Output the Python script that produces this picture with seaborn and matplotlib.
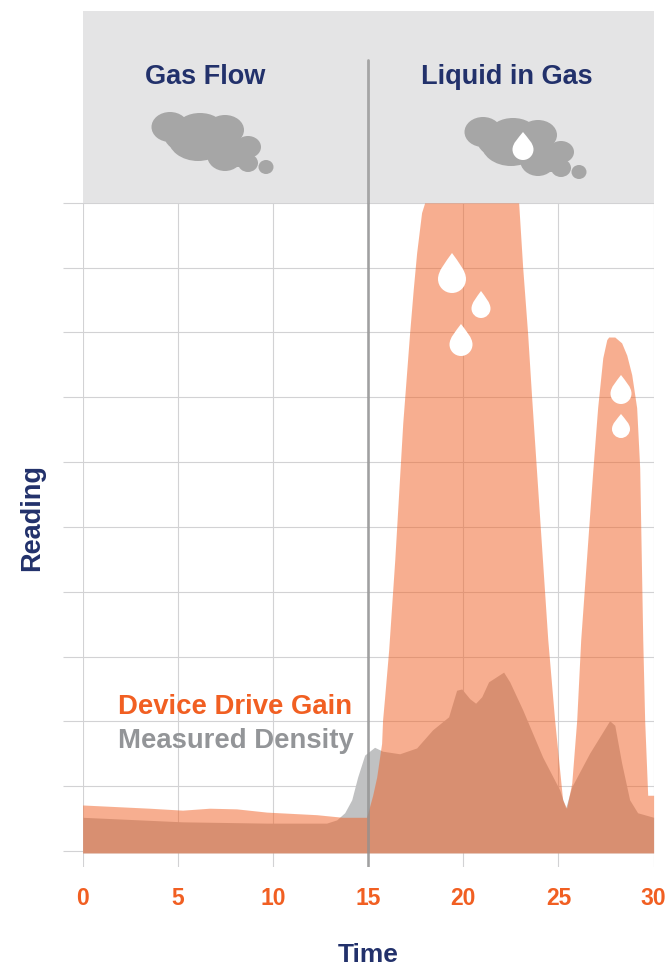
import matplotlib
matplotlib.use("Agg")
import matplotlib.pyplot as plt
from matplotlib.patches import Ellipse, PathPatch
from matplotlib.path import Path
import seaborn as sns

# values
gain_time = [0, 3.52, 5.25, 6.67, 8.09, 9.67, 12.30, 13.66, 14.92, 15.24, 15.45, 15.71, 15.76, 15.87, 16.08, 16.40,
             16.82, 17.18, 17.37, 17.55, 17.81, 17.97, 22.91, 23.12, 23.38, 23.59, 23.80, 24.44, 24.80, 25.22,
             25.43, 25.70, 25.96, 26.17, 26.80, 27.06, 27.33, 27.54, 27.64, 27.96, 28.32, 28.59, 28.85, 29.11,
             29.27, 29.43, 29.53, 29.69, 30]
gain_value = [0.71, 0.66, 0.63, 0.66, 0.65, 0.60, 0.56, 0.52, 0.52, 0.86, 1.14, 1.66, 2.02, 2.38, 3.10, 4.49,
              6.60, 7.99, 8.66, 9.23, 9.85, 10, 10, 9.01, 7.99, 7.01, 6.08, 3.26, 2.02, 0.79,
              0.66, 1.05, 2.02, 3.26, 5.85, 6.84, 7.61, 7.89, 7.93, 7.93, 7.84, 7.65, 7.35, 6.84,
              5.91, 3.26, 2.02, 0.86, 0.86]
density_time = [0, 5.25, 9.67, 12.82, 13.35, 13.77, 14.14, 14.45, 14.82, 15.34, 15.76, 16.66, 17.55,
                18.39, 19.23, 19.65, 19.92, 20.34, 20.65, 20.97, 21.33, 22.12, 22.44, 23.12, 24.17,
                25.07, 25.38, 25.70, 26.64, 27.69, 27.96, 28.32, 28.74, 29.16, 30]
density_value = [0.52, 0.45, 0.43, 0.43, 0.48, 0.59, 0.79, 1.14, 1.48, 1.60, 1.54, 1.50, 1.59,
                 1.87, 2.07, 2.48, 2.50, 2.35, 2.28, 2.38, 2.61, 2.76, 2.61, 2.18, 1.45,
                 0.94, 0.66, 0.99, 1.51, 2.01, 1.94, 1.36, 0.79, 0.59, 0.52]
x_ticks = [0, 5, 10, 15, 20, 25, 30]
y_ticks = list(range(11))
zone_labels = ["Gas Flow", "Liquid in Gas"]

NAVY = "#22316b"
ORANGE = "#f15f22"
GREY_TEXT = "#939598"
GRID = "#d2d2d4"

sns.set_theme(style="whitegrid")
plt.rcParams["font.family"] = ["Liberation Sans", "DejaVu Sans"]
plt.rcParams["font.weight"] = "bold"

W, H = 670, 966
fig = plt.figure(figsize=(W / 100, H / 100), dpi=100)
ax = fig.add_axes([82.6 / W, (H - 867) / H, 571 / W, 856 / H])

ax.set_xlim(0, 30)
ax.set_ylim(-0.247, 12.96)

# panel on top of the grid
ax.axhspan(10, 12.96, color="#e4e4e5", lw=0, zorder=1)

sns.lineplot(x=density_time, y=density_value, ax=ax, color="#c0c1c2", linewidth=0)
sns.lineplot(x=gain_time, y=gain_value, ax=ax, color=ORANGE, linewidth=0)
ax.fill_between(density_time, -0.03, density_value, color="#c0c1c2", lw=0, zorder=2)
ax.fill_between(gain_time, -0.03, gain_value, color=ORANGE, alpha=0.5, lw=0, zorder=2.1)

ax.axvline(15, ymin=0, ymax=(867 - 60) / 856, color="#909090", alpha=0.75, lw=2.0, zorder=3)

ax.set_xticks(x_ticks)
ax.set_yticks(y_ticks)
ax.set_yticklabels([])
ax.grid(True, color=GRID, lw=0.8)
ax.set_axisbelow(True)
ax.tick_params(axis="y", length=14.4, width=0.8, color=GRID, left=True)
ax.tick_params(axis="x", length=0, pad=14.5, labelsize=16.5, labelcolor=ORANGE)
sns.despine(ax=ax, left=True, bottom=True)

ax.set_xlabel("Time", fontsize=19, fontweight="bold", color=NAVY, va="center")
ax.xaxis.set_label_coords(0.5, -0.1025)
ax.set_ylabel("Reading", fontsize=19.5, fontweight="bold", color=NAVY, va="center")
ax.yaxis.set_label_coords(-0.0885, 0.408)

ax.text(6.46, 11.94, zone_labels[0], fontsize=19.5, color=NAVY, ha="center", va="center", zorder=4)
ax.text(22.3, 11.94, zone_labels[1], fontsize=19.5, color=NAVY, ha="center", va="center", zorder=4)
ax.text(1.84, 2.22, "Device Drive Gain", fontsize=19.8, color=ORANGE, va="center", zorder=4)
ax.text(1.84, 1.70, "Measured Density", fontsize=19.8, color=GREY_TEXT, va="center", zorder=4)

# icons, in pixel coordinates on an overlay
icons = fig.add_axes([0, 0, 1, 1], facecolor="none")
icons.set_xlim(0, W)
icons.set_ylim(H, 0)
icons.axis("off")


def draw_cloud(dx, dy):
    blobs = [(170, 127, 18.5, 15), (200, 126, 22, 13), (225, 130, 19, 15), (198, 138, 30, 23),
             (225, 155, 18, 16), (248, 147, 13, 11), (248, 163, 10, 9), (266, 167, 7.5, 7),
             (232, 150, 14, 14), (238, 155, 12, 12), (186, 135, 22, 17)]
    for x, y, rx, ry in blobs:
        icons.add_patch(Ellipse((x + dx, y + dy), 2 * rx, 2 * ry, color="#a6a6a6", lw=0))


def draw_drop(x, top, bottom, width):
    r = width / 2
    cy = bottom - r
    k = 0.552 * r
    h = cy - top
    verts = [(x, top),
             (x + r * 0.45, top + h * 0.35), (x + r, cy - r * 0.6), (x + r, cy),
             (x + r, cy + k), (x + k, bottom), (x, bottom),
             (x - k, bottom), (x - r, cy + k), (x - r, cy),
             (x - r, cy - r * 0.6), (x - r * 0.45, top + h * 0.35), (x, top)]
    codes = [Path.MOVETO] + [Path.CURVE4] * 12
    icons.add_patch(PathPatch(Path(verts, codes), facecolor="white", lw=0))


draw_cloud(0, 0)
draw_cloud(313, 5)
draw_drop(523, 132, 160, 21)
draw_drop(452, 253, 293, 28)
draw_drop(481, 291, 318, 19)
draw_drop(461, 324, 356, 23)
draw_drop(621, 375, 404, 21)
draw_drop(621, 414, 438, 18)

fig.savefig("out.png", dpi=100)
